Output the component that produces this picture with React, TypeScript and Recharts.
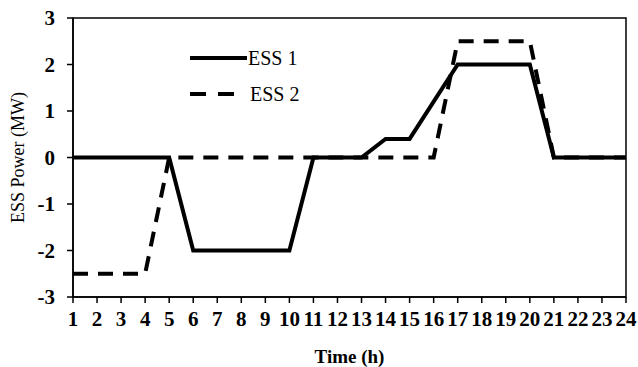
import { LineChart, Line, XAxis, YAxis, ReferenceArea, Legend } from 'recharts';

const hours = [1, 2, 3, 4, 5, 6, 7, 8, 9, 10, 11, 12, 13, 14, 15, 16, 17, 18, 19, 20, 21, 22, 23, 24];
const ess1 = [0, 0, 0, 0, 0, -2, -2, -2, -2, -2, 0, 0, 0, 0.4, 0.4, 1.2, 2, 2, 2, 2, 0, 0, 0, 0];
const ess2 = [-2.5, -2.5, -2.5, -2.5, 0, 0, 0, 0, 0, 0, 0, 0, 0, 0, 0, 0, 2.5, 2.5, 2.5, 2.5, 0, 0, 0, 0];
const yTicks = [-3, -2, -1, 0, 1, 2, 3];

const data = hours.map((h, i) => ({ hour: h, ess1: ess1[i], ess2: ess2[i] }));

const FONT = '"Liberation Serif", "Times New Roman", serif';

function LegendBox() {
  return (
    <div style={{ position: 'absolute', left: 190, top: 40, fontFamily: FONT, fontSize: 20, color: '#000' }}>
      <div style={{ display: 'flex', alignItems: 'center', height: 36 }}>
        <svg width={57} height={8}><line x1={0} y1={4} x2={57} y2={4} stroke="#000" strokeWidth={4} /></svg>
        <span style={{ marginLeft: 1 }}>ESS 1</span>
      </div>
      <div style={{ display: 'flex', alignItems: 'center', height: 36 }}>
        <svg width={57} height={8}><line x1={0} y1={4} x2={44} y2={4} stroke="#000" strokeWidth={4} strokeDasharray="16 12" /></svg>
        <span style={{ marginLeft: 3 }}>ESS 2</span>
      </div>
    </div>
  );
}

export default function App() {
  return (
    <div style={{ position: 'absolute', left: 0, top: 0, width: 638, height: 367, background: '#fff' }}>
      <LineChart width={638} height={367} data={data} margin={{ top: 18, right: 12, bottom: 0, left: 0 }}>
        <XAxis
          dataKey="hour"
          type="number"
          domain={[1, 24]}
          ticks={hours}
          interval={0}
          stroke="#000"
          strokeWidth={1.5}
          tickSize={6}
          tickMargin={8}
          height={70}
          tick={{ fill: '#000', fontFamily: FONT, fontSize: 21, fontWeight: 'bold' }}
          label={{ value: 'Time (h)', position: 'insideBottom', offset: 4, fill: '#000', fontFamily: FONT, fontSize: 19, fontWeight: 'bold' }}
        />
        <YAxis
          type="number"
          domain={[-3, 3]}
          ticks={yTicks}
          interval={0}
          stroke="#000"
          strokeWidth={1.5}
          tickSize={6}
          tickMargin={12}
          width={73}
          tick={{ fill: '#000', fontFamily: FONT, fontSize: 21, fontWeight: 'bold' }}
          label={{ value: 'ESS Power (MW)', angle: -90, position: 'insideLeft', offset: 18, style: { textAnchor: 'middle' }, fill: '#000', fontFamily: FONT, fontSize: 18 }}
        />
        <ReferenceArea x1={1} x2={24} y1={-3} y2={3} fill="none" stroke="#000" strokeWidth={1.5} ifOverflow="visible" />
        <Legend content={() => null} />
        <Line type="linear" dataKey="ess2" name="ESS 2" stroke="#000" strokeWidth={4} strokeDasharray="15 10" dot={false} isAnimationActive={false} />
        <Line type="linear" dataKey="ess1" name="ESS 1" stroke="#000" strokeWidth={4} dot={false} isAnimationActive={false} />
      </LineChart>
      <LegendBox />
    </div>
  );
}
